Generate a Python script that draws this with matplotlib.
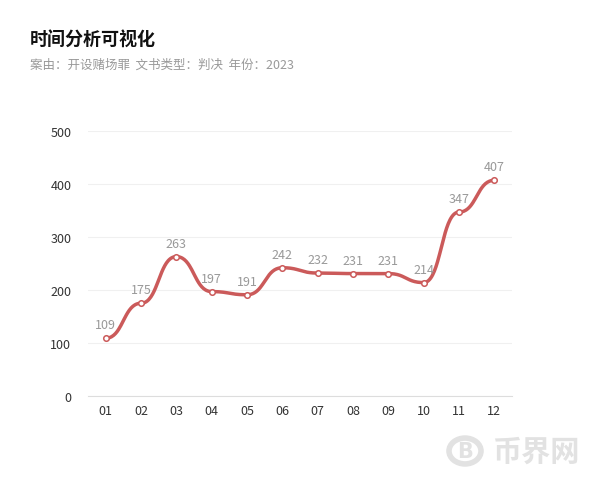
import numpy as np
import matplotlib
matplotlib.use('Agg')
import matplotlib.pyplot as plt
from matplotlib.patches import Circle

plt.rcParams['font.family'] = ['Noto Sans CJK SC', 'DejaVu Sans']

months = ['01', '02', '03', '04', '05', '06', '07', '08', '09', '10', '11', '12']
counts = [109, 175, 263, 197, 191, 242, 232, 231, 231, 214, 347, 407]
yticks = [0, 100, 200, 300, 400, 500]

title = '时间分析可视化'
subtitle = '案由：开设赌场罪  文书类型：判决  年份：2023'

LINE = '#cb5a5a'


def smooth_curve(xs, ys, smooth=0.5, n=40):
    # bezier smoothing with horizontal tangents at each point
    xs = np.asarray(xs, float)
    ys = np.asarray(ys, float)
    t = np.linspace(0, 1, n)
    out_x, out_y = [], []
    for i in range(len(xs) - 1):
        dx = xs[i + 1] - xs[i]
        p0 = (xs[i], ys[i])
        p1 = (xs[i] + dx * smooth, ys[i])
        p2 = (xs[i + 1] - dx * smooth, ys[i + 1])
        p3 = (xs[i + 1], ys[i + 1])
        b = [(1 - t) ** 3, 3 * (1 - t) ** 2 * t, 3 * (1 - t) * t ** 2, t ** 3]
        out_x.append(sum(w * p[0] for w, p in zip(b, [p0, p1, p2, p3])))
        out_y.append(sum(w * p[1] for w, p in zip(b, [p0, p1, p2, p3])))
    return np.concatenate(out_x), np.concatenate(out_y)


fig = plt.figure(figsize=(6, 4.85), dpi=100)
ax = fig.add_axes([88 / 600, 1 - 397 / 485, 424 / 600, 265 / 485])

x = np.arange(len(months))
cx, cy = smooth_curve(x, counts)
ax.plot(cx, cy, color=LINE, lw=2.5, solid_capstyle='round', zorder=3)
ax.plot(x, counts, 'o', ms=4, mfc='white', mec=LINE, mew=1.1, zorder=4)

for xi, v in zip(x, counts):
    ax.annotate(str(v), (xi, v), xytext=(0, 5), textcoords='offset points',
                ha='center', va='bottom', fontsize=9, color='#999999')

ax.set_xlim(-0.5, len(months) - 0.5)
ax.set_ylim(0, 500)
ax.set_xticks(x)
ax.set_xticklabels(months)
ax.set_yticks(yticks)
ax.tick_params(length=0, labelsize=9, colors='#333333', pad=6)
ax.tick_params(axis='y', pad=12)
for s in ['top', 'right', 'left']:
    ax.spines[s].set_visible(False)
ax.spines['bottom'].set_color('#dddddd')
ax.grid(axis='y', color='#f0f0f0', lw=0.8)
ax.set_axisbelow(True)

fig.text(30 / 600, 1 - 40 / 485, title, fontsize=13, fontweight='bold',
         color='#111111', va='center', ha='left')
fig.text(30 / 600, 1 - 65 / 485, subtitle, fontsize=9, color='#999999',
         va='center', ha='left')

# faint watermark
wm = '#e2e2e2'
fig.patches.append(Circle((465 / 600, 1 - 452 / 485), 16 / 600, transform=fig.transFigure,
                          fill=False, ec=wm, lw=4))
fig.text(465 / 600, 1 - 452 / 485, 'B', fontsize=15, fontweight='bold', color=wm,
         va='center', ha='center', family='DejaVu Sans')
fig.text(492 / 600, 1 - 452 / 485, '币界网', fontsize=21, fontweight='bold',
         color=wm, va='center', ha='left')

fig.savefig('out.png', dpi=100)
